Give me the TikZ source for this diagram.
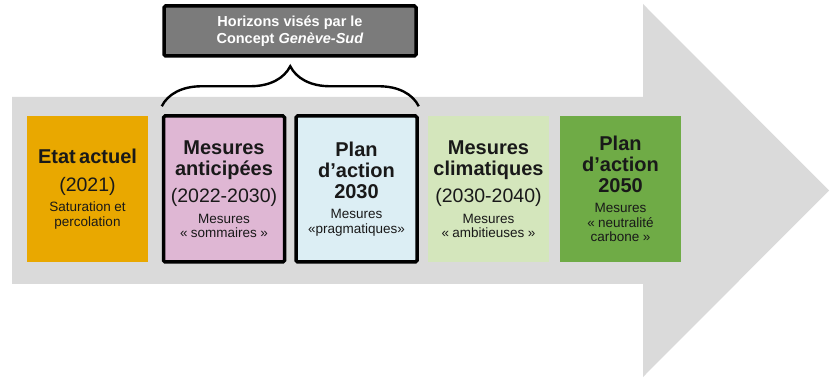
\documentclass[tikz,border=0pt]{standalone}
\usepackage{fontspec}
\setmainfont{Liberation Sans}
\usepackage{xcolor}
\definecolor{arrowgray}{HTML}{DADADA}
\definecolor{hzgray}{HTML}{7B7B7B}
\definecolor{nowblk}{HTML}{E9A800}
\definecolor{earlyblk}{HTML}{DFB7D4}
\definecolor{plantblk}{HTML}{DCEEF4}
\definecolor{climblk}{HTML}{D4E6BC}
\definecolor{planfblk}{HTML}{6FAB46}
\usepackage{tikz}
\usetikzlibrary{positioning,calc,decorations.pathreplacing}
\newcommand{\stagettl}{\fontsize{20}{21}\selectfont\bfseries}
\newcommand{\stageyr}{\fontsize{19.5}{27.5}\selectfont}
\newcommand{\stagenote}{\par\vspace{6pt}\fontsize{13.5}{14.5}\selectfont}
\tikzset{
  stage/.style    = {minimum width=121pt,minimum height=146pt,text width=119pt,
                     align=center,inner sep=0pt,text=black!90},
  nowbox/.style   = {stage,fill=nowblk},
  earlybox/.style = {stage,fill=earlyblk,draw=black,line width=3.5pt,
                     rounded corners=1.5pt},
  plantbox/.style = {stage,fill=plantblk,draw=black,line width=3.5pt,
                     rounded corners=1.5pt},
  climbox/.style  = {stage,fill=climblk},
  planfbox/.style = {stage,fill=planfblk},
  hzbox/.style    = {fill=hzgray,draw=black,line width=3.5pt,rounded corners=1.5pt,
                     minimum width=252pt,minimum height=50pt,align=center,
                     text=white,font=\fontsize{14.5}{17}\selectfont\bfseries},
  brc/.style      = {decorate,line width=2.4pt,
                     decoration={brace,amplitude=40pt,raise=8pt}},
}
\begin{document}
\begin{tikzpicture}[x=1pt,y=-1pt]
  \useasboundingbox (0,0) rectangle (838,379);

  % timeline arrow
  \fill[arrowgray] (12,97) -- (643,97) -- (643,4) -- (829,190.5)
    -- (643,377) -- (643,284) -- (12,284) -- cycle;

  % stages
  \node[nowbox] (e0) at (87.5,189)
    {{\stagettl Etat actuel\par}{\stageyr (2021)\par}%
     {\stagenote Saturation et\\percolation\par}};
  \node[earlybox] (e1) at (224,189)
    {{\stagettl Mesures\\anticipées\par}{\stageyr (2022-2030)\par}%
     {\stagenote Mesures\\«~sommaires~»\par}};
  \node[plantbox] (e2) at (356.5,189)
    {{\stagettl Plan\\d’action\\2030\par}%
     {\stagenote Mesures\\«pragmatiques»\par}};
  \node[climbox] (e3) at (488.5,189)
    {{\stagettl Mesures\\climatiques\par}{\stageyr (2030-2040)\par}%
     {\stagenote Mesures\\«~ambitieuses~»\par}};
  \node[planfbox] (e4) at (620.5,189)
    {{\stagettl Plan\\d’action\\2050\par}%
     {\stagenote Mesures\\«~neutralité\\carbone~»\par}};

  % horizons of the concept
  \node[hzbox] (hz) at (290,31)
    {Horizons visés par le\\Concept \textit{Genève-Sud}};
  \draw[brc] (e1.north west) -- (e2.north east);
\end{tikzpicture}
\end{document}
